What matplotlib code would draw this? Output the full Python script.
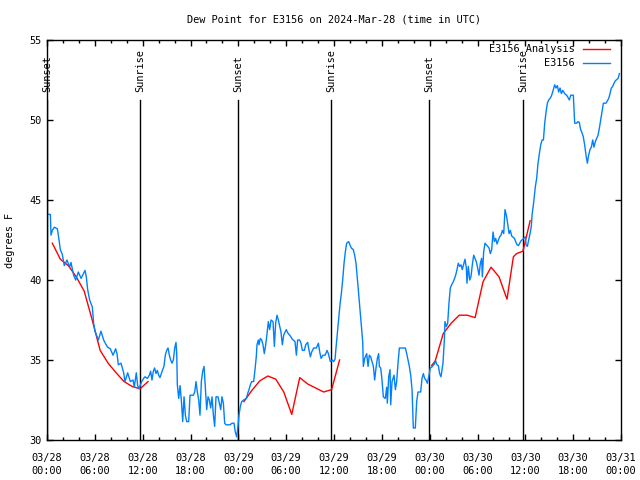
import datetime as dt
import matplotlib
matplotlib.use("Agg")
import matplotlib.pyplot as plt
import matplotlib.dates as mdates
import numpy as np

start = dt.datetime(2024, 3, 28)

# observed dew point (hours after 03/28 00:00 UTC, deg F)
obs_hours = [0.17, 0.42, 0.50, 0.67, 0.92, 1.30, 1.51, 1.67, 1.92, 2.17, 2.51, 2.84, 3.01, 3.34, 3.60, 3.93,
             4.27, 4.77, 4.93, 5.10, 5.35, 5.69, 5.85, 6.02, 6.44, 6.77, 7.11, 7.36, 7.61, 7.94, 8.28, 8.61,
             8.78, 8.95, 9.28, 9.62, 9.78, 10.12, 10.45, 10.79, 10.95, 11.20, 11.37, 11.54, 11.87, 12.12, 12.29,
             12.59, 12.84, 13.0, 13.17, 13.34, 13.5, 13.67, 13.84, 14.01, 14.17, 14.34, 14.51, 14.67, 14.84,
             15.01, 15.18, 15.35, 15.51, 15.68, 15.85, 16.02, 16.18, 16.27, 16.35, 16.52, 16.69, 16.85, 17.02,
             17.19, 17.36, 17.52, 17.77, 17.94, 18.36, 18.53, 18.69, 18.86, 19.03, 19.19, 19.36, 19.53, 19.7,
             19.86, 20.03, 20.2, 20.37, 20.53, 20.7, 20.87, 21.03, 21.2, 21.45, 21.62, 21.79, 21.95, 22.12,
             22.29, 22.46, 22.96, 23.21, 23.46, 23.62, 23.79, 23.96,
             24.08, 24.25, 24.42, 24.67, 25.0, 25.17, 25.34, 25.51, 25.67, 25.92, 26.09, 26.25, 26.34, 26.51,
             26.59, 26.76, 26.93, 27.09, 27.26, 27.43, 27.6, 27.76, 27.93, 28.1, 28.35, 28.52, 28.68, 28.85,
             29.02, 29.19, 29.35, 29.52, 29.69, 29.86, 30.02, 30.19, 30.52, 30.77, 31.11, 31.28, 31.44, 31.69,
             31.86, 32.03, 32.28, 32.45, 32.7, 32.87, 33.04, 33.2, 33.45, 33.79, 34.04, 34.21, 34.38, 34.62,
             34.88, 35.13, 35.29, 35.54, 35.79, 35.96, 36.13,
             36.25, 36.42, 36.59, 36.75, 36.92, 37.09, 37.26, 37.42, 37.59, 37.84, 38.0, 38.17, 38.42, 38.59,
             38.76, 38.93, 39.09, 39.26, 39.43, 39.6, 39.68, 39.85, 40.1, 40.27, 40.43, 40.6, 40.77, 40.94,
             41.1, 41.27, 41.44, 41.6, 41.69, 41.86, 42.02, 42.19, 42.44, 42.61, 42.69, 42.86, 43.03, 43.11,
             43.28, 43.53, 43.7, 43.86, 44.03, 44.2, 44.95, 45.12, 45.29, 45.45, 45.62, 45.79, 45.95, 46.2,
             46.37, 46.54, 46.87, 47.04, 47.21, 47.37, 47.54, 47.71, 47.88,
             48.08, 48.25, 48.59, 48.75, 48.92, 49.09, 49.25, 49.42, 49.67, 49.84, 49.92, 50.09, 50.26, 50.42,
             50.59, 50.76, 50.92, 51.09, 51.26, 51.43, 51.59, 51.76, 51.93, 52.09, 52.43, 52.6, 52.68, 52.85,
             53.02, 53.18, 53.35, 53.52, 53.69, 53.85, 54.02, 54.19, 54.36, 54.52, 54.61, 54.77, 54.94, 55.11,
             55.45, 55.61, 55.78, 55.95, 56.12, 56.28, 56.45, 56.62, 56.78, 56.95, 57.12, 57.29, 57.45, 57.62,
             57.79, 57.96, 58.12, 58.29, 58.63, 58.96, 59.13, 59.3, 59.46, 59.8,
             60.0, 60.09, 60.25, 60.42, 60.59, 60.75, 60.84, 61.01, 61.17, 61.26, 61.42, 61.59, 61.76, 61.93,
             62.1, 62.27, 62.43, 62.6, 62.76, 62.93, 63.1, 63.27, 63.43, 63.68, 63.85, 64.02, 64.18, 64.35,
             64.52, 64.69, 65.02, 65.19, 65.35, 65.52, 65.69, 66.02, 66.19, 66.44, 66.6, 66.77, 66.94, 67.11,
             67.27, 67.44, 67.61, 67.78, 67.94, 68.11, 68.28, 68.45, 68.61, 68.78, 69.12, 69.29, 69.45, 69.62,
             69.79, 70.12, 70.46, 70.62, 70.79, 70.96, 71.13, 71.29, 71.63, 71.8]
obs_vals = [44.1, 44.1, 42.8, 43.1, 43.3, 43.2, 42.5, 41.9, 41.6, 40.9, 41.25, 40.8, 41.1, 40.3, 40.0, 40.5,
            40.1, 40.6, 40.2, 39.4, 38.75, 38.3, 37.3, 36.8, 36.25, 36.8, 36.25, 36.0, 35.8, 35.7, 35.3, 35.7,
            35.4, 34.7, 34.8, 34.2, 33.65, 34.2, 33.65, 33.75, 33.3, 34.2, 33.4, 33.2, 33.65, 33.85, 33.95,
            33.85, 34.05, 34.3, 33.75, 34.3, 34.5, 34.15, 34.35, 34.05, 33.9, 34.15, 34.4, 34.6, 35.3,
            35.6, 35.75, 35.3, 35.0, 34.8, 35.0, 35.75, 36.1, 35.4, 33.45, 32.6, 33.4, 32.5, 31.15,
            32.7, 31.55, 31.15, 31.15, 32.8, 32.8, 33.0, 33.65, 33.0, 32.5, 31.55, 33.65, 34.3, 34.6,
            33.3, 31.9, 32.7, 32.5, 32.0, 32.7, 31.55, 30.85, 32.7, 32.7, 32.3, 31.9, 32.7, 32.3,
            31.05, 30.95, 30.95, 31.05, 31.05, 30.5, 30.2, 30.85,
            31.55, 32.1, 32.4, 32.5, 32.6, 32.9, 33.15, 33.45, 33.65, 33.65, 34.4, 35.2, 35.95, 36.25,
            35.95, 36.35, 36.25, 35.95, 35.4, 35.95, 36.65, 37.4, 36.9, 37.5, 37.4, 35.85, 37.3, 37.8,
            37.5, 37.1, 36.75, 35.95, 36.55, 36.75, 36.9, 36.7, 36.5, 36.3, 36.15, 35.3, 36.25, 36.25,
            36.05, 35.6, 35.6, 35.95, 36.1, 35.6, 35.2, 35.5, 35.75, 35.75, 36.05, 35.5, 35.1, 35.3,
            35.3, 35.6, 35.4, 34.9, 35.0, 34.9, 35.05,
            35.75, 36.65, 37.5, 38.45, 39.15, 40.0, 41.05, 41.75, 42.3, 42.4, 42.2, 42.0, 41.9, 41.55,
            41.05, 40.1, 39.15, 38.15, 37.2, 36.15, 34.6, 35.1, 35.4, 34.6, 35.3, 35.2, 34.9, 34.6,
            33.75, 34.5, 35.1, 35.4, 34.6, 34.5, 33.75, 32.7, 32.6, 33.3, 32.3, 33.95, 34.4, 32.2,
            33.65, 34.05, 33.15, 33.65, 34.8, 35.75, 35.75, 35.4, 35.0, 34.6, 34.05, 33.15, 30.75, 30.75,
            32.4, 33.0, 33.0, 33.85, 34.15, 33.85, 33.75, 33.55, 33.95,
            34.5, 34.55, 34.75, 34.95, 34.7, 34.65, 34.15, 33.95, 34.8, 36.25, 37.4, 37.1, 37.3, 38.55,
            39.5, 39.7, 39.85, 40.05, 40.3, 40.65, 41.05, 40.85, 40.95, 40.65, 41.3, 40.75, 39.8, 40.85,
            40.0, 40.2, 40.95, 41.55, 41.35, 41.15, 40.75, 40.3, 41.05, 41.35, 40.2, 41.75, 42.3, 42.2,
            42.0, 41.65, 41.9, 43.0, 42.4, 42.6, 42.25, 42.5, 42.7, 42.8, 43.1, 42.9, 44.4, 44.05,
            43.5, 42.9, 43.1, 42.75, 42.6, 42.2, 42.15, 42.3, 42.45, 42.6,
            42.7, 42.2, 42.1, 42.5, 42.9, 43.35, 44.05, 44.7, 45.4, 45.85, 46.35, 47.3, 47.9, 48.45,
            48.75, 48.75, 49.8, 50.5, 51.05, 51.25, 51.35, 51.5, 51.75, 52.2, 52.0, 52.15, 51.75, 52.0,
            51.65, 51.85, 51.6, 51.55, 51.4, 51.25, 51.55, 51.55, 49.8, 49.8, 49.9, 49.85, 49.4, 49.2,
            48.95, 48.45, 47.8, 47.3, 47.8, 48.15, 48.3, 48.75, 48.3, 48.65, 49.05, 49.5, 50.0, 50.5,
            51.05, 51.05, 51.35, 51.65, 52.0, 52.1, 52.3, 52.45, 52.6, 52.9]

# analysis dew point, three runs (NaN separates them)
ana_hours = [0.67, 1.67, 2.67, 3.67, 4.67, 5.67, 6.67, 7.67, 8.67, 9.67, 10.67, 11.67, 12.67, 12.7,
             24.7, 25.7, 26.7, 27.7, 28.7, 29.7, 30.7, 31.7, 32.7, 33.7, 34.7, 35.7, 36.7, 36.75,
             48.25, 48.7, 49.7, 50.7, 51.7, 52.7, 53.7, 54.7, 55.7, 56.7, 57.7, 58.5, 58.9, 59.7, 60.6]
ana_vals = [42.3, 41.3, 40.9, 40.2, 39.3, 37.5, 35.6, 34.8, 34.2, 33.65, 33.35, 33.2, 33.65, np.nan,
            32.4, 33.1, 33.7, 34.0, 33.8, 33.0, 31.6, 33.9, 33.5, 33.25, 33.0, 33.15, 35.0, np.nan,
            34.65, 34.95, 36.65, 37.3, 37.8, 37.8, 37.65, 39.9, 40.8, 40.2, 38.8, 41.45, 41.65, 41.8, 43.7]

sun_hours = [0.0, 11.67, 23.96, 35.62, 47.92, 59.71]
sun_labels = ["Sunset", "Sunrise", "Sunset", "Sunrise", "Sunset", "Sunrise"]

mono = "DejaVu Sans Mono"
fs = 7.4

def to_time(hours):
    return [start + dt.timedelta(hours=h) for h in hours]

fig = plt.figure(figsize=(6.4, 4.8), dpi=100)
ax = fig.add_axes([47 / 640, 40 / 480, 574 / 640, 400 / 480])

for h, lab in zip(sun_hours, sun_labels):
    t = start + dt.timedelta(hours=h)
    ax.plot([t, t], [30, 51.25], color="black", lw=1)
    ax.text(t, 51.75, lab, rotation=90, ha="center", va="bottom",
            fontsize=fs, family=mono, clip_on=False)

ax.plot(to_time(ana_hours), ana_vals, color="#ff0000", lw=1)
ax.plot(to_time(obs_hours), obs_vals, color="#0080ff", lw=1)

ax.set_xlim(start, start + dt.timedelta(days=3))
ax.set_ylim(30, 55)
ax.xaxis.set_major_locator(mdates.HourLocator(byhour=[0, 6, 12, 18]))
ax.xaxis.set_minor_locator(mdates.HourLocator(interval=2))
ax.xaxis.set_major_formatter(mdates.DateFormatter("%m/%d\n%H:%M"))
ax.set_yticks([30, 35, 40, 45, 50, 55])
ax.tick_params(which="both", direction="in", top=True, right=True, width=1, colors="black")
ax.tick_params(which="major", length=4.5)
ax.tick_params(which="minor", length=2.3)
ax.tick_params(axis="x", which="major", pad=9)
ax.tick_params(axis="y", pad=4)
for lab in ax.get_xticklabels() + ax.get_yticklabels():
    lab.set_family(mono)
    lab.set_fontsize(fs)
    lab.set_linespacing(1.45)
for s in ax.spines.values():
    s.set_linewidth(1)

# key in the top right corner
ax.text(0.92, 0.9775, "E3156 Analysis", transform=ax.transAxes, ha="right", va="center",
        fontsize=fs, family=mono)
ax.plot([0.934, 0.981], [0.9775, 0.9775], transform=ax.transAxes, color="#ff0000", lw=1)
ax.text(0.92, 0.9425, "E3156", transform=ax.transAxes, ha="right", va="center",
        fontsize=fs, family=mono)
ax.plot([0.934, 0.981], [0.9425, 0.9425], transform=ax.transAxes, color="#0080ff", lw=1)

fig.text(334 / 640, 1 - 19 / 480, "Dew Point for E3156 on 2024-Mar-28 (time in UTC)",
         ha="center", va="center", fontsize=fs, family=mono)
fig.text(10 / 640, 0.5, "degrees F", rotation=90, ha="center", va="center",
         fontsize=fs, family=mono)

fig.savefig("out.png", dpi=100)
